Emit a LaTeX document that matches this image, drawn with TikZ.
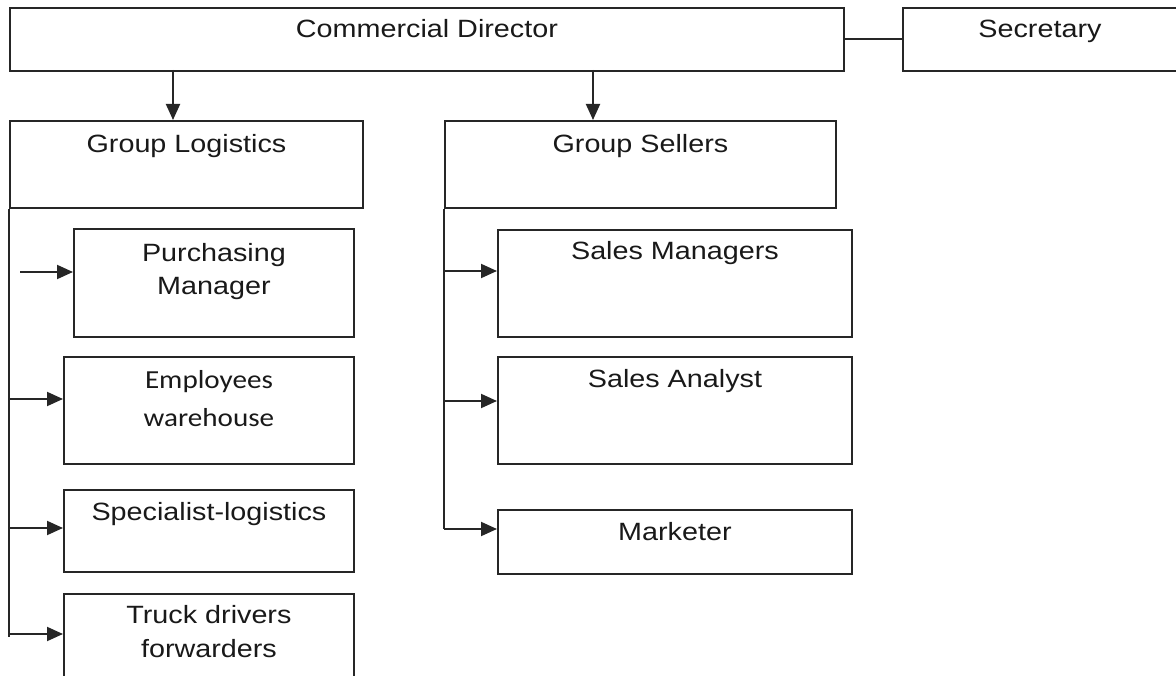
\documentclass[tikz,border=0pt]{standalone}
\usepackage{fontspec}
\setmainfont{Liberation Sans}[FakeStretch=1.15]
\newfontfamily\calfont{Carlito}[FakeStretch=1.12]
\usepackage{tikz}
\usetikzlibrary{arrows.meta}

\tikzset{
    box/.style={draw=black!85, line width=1.9pt, anchor=north west, inner sep=0pt},
    lbl/.style={anchor=base, align=center, inner sep=0pt, text=black!90, font=\fontsize{25}{33}\selectfont},
    bus/.style={draw=black!85, line width=1.9pt},
    arr/.style={bus, -{Triangle[length=16pt, width=14pt]}},
}

\begin{document}
\begin{tikzpicture}[x=1pt, y=-1pt]
    \clip (0,0) rectangle (1176,676);

    % Top row
    \node[box, minimum width=834, minimum height=63] (cd) at (9,7) {};
    \node[box, minimum width=290, minimum height=63] (sec) at (902,7) {};
    \node[lbl] (cdt) at ([yshift=-31pt]cd.north) {Commercial Director};
    \node[lbl] (sect) at ([xshift=-8pt, yshift=-31pt]sec.north) {Secretary};
    \draw[bus] (cd.east) -- (sec.west);

    % The two groups
    \node[box, minimum width=353, minimum height=87] (gl) at (9,120) {};
    \node[box, minimum width=391, minimum height=87] (gs) at (444,120) {};
    \node[lbl] (glt) at ([yshift=-33pt]gl.north) {Group Logistics};
    \node[lbl] (gst) at ([yshift=-33pt]gs.north) {Group Sellers};

    \coordinate (cdl) at (173,70);
    \coordinate (cds) at (593,70);
    \draw[arr] (cdl) -- (cdl |- gl.north);
    \draw[arr] (cds) -- (cds |- gs.north);

    % Logistics staff
    \node[box, minimum width=280, minimum height=108] (pm) at (73,228) {};
    \node[box, minimum width=290, minimum height=107] (ew) at (63,356) {};
    \node[box, minimum width=290, minimum height=82] (sl) at (63,489) {};
    \node[box, minimum width=290, minimum height=110] (td) at (63,593) {};
    % (base of a two-line label is its last line)
    \node[lbl] (pmt) at ([yshift=-67pt]pm.north) {Purchasing\\Manager};
    \node[lbl, font=\calfont\fontsize{26}{38}\selectfont] (ewt) at ([yshift=-70pt]ew.north) {Employees\\warehouse};
    \node[lbl] (slt) at ([yshift=-31pt]sl.north) {Specialist-logistics};
    \node[lbl, font=\fontsize{25}{34}\selectfont] (tdt) at ([yshift=-64pt]td.north) {Truck drivers\\forwarders};

    % Sellers staff
    \node[box, minimum width=354, minimum height=107] (sm) at (497,229) {};
    \node[box, minimum width=354, minimum height=107] (sa) at (497,356) {};
    \node[box, minimum width=354, minimum height=64] (mk) at (497,509) {};
    \node[lbl] (smt) at ([yshift=-31pt]sm.north) {Sales Managers};
    \node[lbl] (sat) at ([yshift=-32pt]sa.north) {Sales Analyst};
    \node[lbl] (mkt) at ([yshift=-31pt]mk.north) {Marketer};

    % Branch points on the two vertical lines
    \coordinate (lpm) at (20,272);
    \coordinate (lew) at (9,399);
    \coordinate (lsl) at (9,528);
    \coordinate (ltd) at (9,634);
    \coordinate (lend) at (9,637);
    \coordinate (ssm) at (444,271);
    \coordinate (ssa) at (444,401);
    \coordinate (smk) at (444,529);

    \draw[bus] (gl.south west) -- (lend);
    \draw[bus] (gs.south west) -- (smk);
    \foreach \c/\n in {lpm/pm, lew/ew, lsl/sl, ltd/td, ssm/sm, ssa/sa, smk/mk}
        \draw[arr] (\c) -- (\c -| \n.west);
\end{tikzpicture}
\end{document}
